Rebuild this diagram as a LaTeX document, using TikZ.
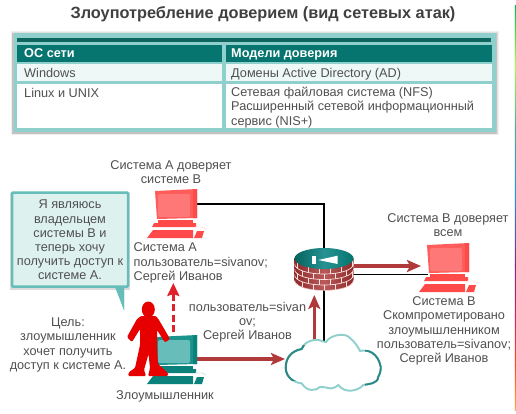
\documentclass[tikz,border=0pt]{standalone}
\usepackage{fontspec}
\setmainfont{Liberation Sans}
\usetikzlibrary{arrows.meta}
\definecolor{txt}{HTML}{505050}
\definecolor{tealdark}{HTML}{06756F}
\definecolor{tealbar}{HTML}{0F6560}
\definecolor{teallight}{HTML}{8FD0CC}
\definecolor{calloutedge}{HTML}{66BDB9}
\definecolor{calloutfill}{HTML}{DDF1EF}
\definecolor{arrowred}{HTML}{B03A3A}
\definecolor{dashred}{HTML}{E0202A}
\definecolor{redbody}{HTML}{FF4A4A}
\definecolor{redfront}{HTML}{FF5C5C}
\definecolor{redscreen}{HTML}{FF7878}
\definecolor{tealbody}{HTML}{0A827B}
\definecolor{tealfront}{HTML}{1A938C}
\definecolor{tealscreen}{HTML}{66BDB9}
\definecolor{brick}{HTML}{8E2A2A}
\definecolor{brickmid}{HTML}{B85A5A}
\definecolor{personred}{HTML}{E60000}
\tikzset{
 x=1pt,y=-1pt,
 lbl/.style={inner sep=0pt,text=txt,font=\fontsize{12.7}{14.2}\selectfont,align=center},
 lbll/.style={lbl,align=left},
 celltxt/.style={lbl,align=left,anchor=west},
 rowtxt/.style={celltxt,text height=9pt,text depth=2.5pt},
 headtxt/.style={inner sep=0pt,anchor=west,text=white,text height=9pt,text depth=2.5pt,font=\fontsize{12.7}{14.2}\selectfont\bfseries},
 hook/.style={inner sep=0pt,minimum width=42pt,minimum height=30pt},
 bluntline/.style={line width=1.6pt,black},
 bigarrow/.style={line width=3.2pt,arrowred,-{Stealth[length=14pt,width=12pt,inset=3pt]}},
 pics/comp/.style n args={4}{code={
  \fill[#2] (0,1)--(42,-1)--(42,28)--(2,29)--cycle;
  \fill[#1] (38,0)--(42,-1)--(42,28)--(38,28)--cycle;
  \fill[#3,rounded corners=1.5pt] (3,4)--(35,4)--(35,27)--(3,27)--cycle;
  \fill[#1] (3,30)--(38,30)--(38,33)--(3,33)--cycle;
  \fill[#1] (-1,33)--(41,33)--(41,37)--(-3,37)--cycle;
  \fill[#1] (-2,40)--(38,40)--(38,48)--(-8,48)--cycle;
  \fill[#1] (42,41)--(49,41)--(47,48)--(39,48)--cycle;
  \draw[#4,line width=.8pt] (40,37)--(47,37)--(51,39);
 }},
}
\begin{document}
\begin{tikzpicture}
\useasboundingbox (0,0) rectangle (516,414);
\fill[white] (0,0) rectangle (516,414);
% rainbow edge line
\shade[top color=green!45!teal,bottom color=yellow!50!green!70!white] (514.8,6) rectangle (515.8,65);
\shade[top color=yellow!50!green!70!white,bottom color=teal!70!white] (514.8,65) rectangle (515.8,130);
\shade[top color=teal!70!white,bottom color=blue!40!cyan!70!gray] (514.8,130) rectangle (515.8,195);
\shade[top color=blue!40!cyan!70!gray,bottom color=violet!70!gray] (514.8,195) rectangle (515.8,265);
\shade[top color=violet!70!gray,bottom color=purple!85!white] (514.8,265) rectangle (515.8,315);
\shade[top color=purple!85!white,bottom color=red!70!orange!85!white] (514.8,315) rectangle (515.8,365);
\shade[top color=red!70!orange!85!white,bottom color=orange!70!white] (514.8,365) rectangle (515.8,410);
% title
\node[inner sep=0pt,text=black!75,font=\fontsize{16.3}{18}\selectfont\bfseries] (title) at (263,14.5) {Злоупотребление доверием (вид сетевых атак)};
% table
\foreach \w/\c in {5/6,3.5/12,2.2/24}
  \draw[line width=\w pt,black!\c] (13.5,34) rectangle (496,132.5);
\fill[teallight] (13.5,33.5) rectangle (495.5,132);
\fill[tealbar] (17.3,38.3) rectangle (491,41.7);
\fill[tealdark] (17.3,45) rectangle (221.7,61.7);
\fill[tealdark] (225.7,45) rectangle (491.7,61.7);
\fill[teallight!15!white] (17.3,64.3) rectangle (221.7,81);
\fill[teallight!15!white] (225.7,64.3) rectangle (491.7,81);
\fill[white] (17.3,84.3) rectangle (221.7,128);
\fill[white] (225.7,84.3) rectangle (491.7,128);
\node[headtxt] (h1) at (24,54) {ОС сети};
\node[headtxt] (h2) at (231,54) {Модели доверия};
\node[rowtxt] (c1) at (24,74) {Windows};
\node[rowtxt] (c2) at (231,74) {Домены Active Directory (AD)};
\node[rowtxt] (c3) at (24,94.5) {Linux и UNIX};
\node[celltxt] (c4) at (231,107.5) {Сетевая файловая система (NFS)\\Расширенный сетевой информационный\\сервис (NIS+)};
% anchors
\node[hook] (compA) at (176,204) {};
\node[hook] (compX) at (176,359) {};
\node[hook] (compB) at (449,274.3) {};
\node[inner sep=0pt,minimum width=59pt,minimum height=42pt] (router) at (324,269) {};
\coordinate (corner) at (324,204);
\coordinate (cloudtop) at (324,342);
\coordinate (cloudleft) at (285,359);
\coordinate (rOutE) at (354,266);
\coordinate (bIn) at (421,266);
\coordinate (cloudUp) at (314.3,339);
\coordinate (rIn) at (314.3,295);
\coordinate (dashS) at (173.3,332);
\coordinate (dashE) at (173.3,283);
% connectors
\draw[bluntline] (compA.east) -- (corner) -- (router.center) -- (cloudtop);
\draw[bluntline] (router.center) ++(0,5.3) -- (compB.west);
\draw[bigarrow] (rOutE) -- (bIn);
\draw[bigarrow] (cloudUp) -- (rIn);
\draw[bigarrow] (compX.east) -- (cloudleft);
\draw[line width=2.6pt,dashred,dash pattern=on 7pt off 3.5pt] (dashS) -- (173.3,296);
\draw[line width=2.6pt,dashred,-{Stealth[length=13pt,width=12pt,inset=2pt]}] (173.3,298) -- (dashE);
% computers
\pic at (155,190) {comp={redbody}{redfront}{redscreen}{red!10!white}};
\pic at (427,244) {comp={redbody}{redfront}{redscreen}{red!10!white}};
\pic at (155,336) {comp={tealbody}{tealfront}{tealscreen}{teallight!50!white}};
% router
\shade[left color=brick,right color=brick,middle color=brickmid] (294.5,258) -- (294.5,280) .. controls (294.5,294) and (353.5,294) .. (353.5,280) -- (353.5,258) -- cycle;
\begin{scope}
\clip (294.5,258) -- (294.5,280) .. controls (294.5,294) and (353.5,294) .. (353.5,280) -- (353.5,258) -- cycle;
\foreach \k in {0,1,2,3}{
  \pgfmathsetmacro{\yy}{263.5+5.5*\k}
  \draw[red!12!white,line width=.7pt] (294.5,\yy) .. controls (294.5,\yy+14) and (353.5,\yy+14) .. (353.5,\yy);
}
\foreach \k in {0,1,2,3,4}{
  \pgfmathsetmacro{\yy}{258+5.5*\k}
  \pgfmathsetmacro{\off}{mod(\k,2)*5.5}
  \foreach \i in {0,...,5}{
    \pgfmathsetmacro{\xx}{297+\off+\i*11}
    \pgfmathsetmacro{\dy}{10.5*sqrt(max(0,1-((\xx-324)/29.5)^2))}
    \draw[red!12!white,line width=.7pt] (\xx,\yy+\dy) -- (\xx,\yy+\dy+5.5);
  }
}
\end{scope}
\shade[left color=tealdark!85!black,right color=tealdark,middle color=teal!85!white] (324,258.5) ellipse[x radius=29.5pt,y radius=10.5pt];
\fill[white] (312.3,255.7) rectangle (316.3,264);
\fill[white] (337.7,255.7) -- (337.7,264) -- (318.3,260) -- cycle;
% cloud
\def\cloudpath{(285.7,368) .. controls (285.7,358) and (291,351) .. (301.7,349)
 .. controls (303,343) and (312,339) .. (319,340) .. controls (322,341) and (324,342) .. (326,342)
 .. controls (330,335) and (345,332) .. (350,338) .. controls (355,342) and (358,347) .. (360,351)
 .. controls (368,349) and (378,353) .. (380.7,366.7) .. controls (381,370) and (380,374) .. (378.3,376.7)
 .. controls (378,384) and (368,384) .. (363.3,385) .. controls (358,391) and (345,394) .. (338.3,385)
 .. controls (335,388) and (331,389) .. (328.3,388) .. controls (325,387) and (322,387) .. (320,387)
 .. controls (316,391) and (307,392) .. (301.7,383.3) .. controls (295,383) and (286,378) .. (285.7,368) -- cycle}
\fill[white] \cloudpath;
\draw[teallight,line width=1.9pt] \cloudpath;
\begin{scope}
\clip (280,345) rectangle (312,380);
\draw[tealdark!85!white,line width=2pt] \cloudpath;
\end{scope}
\begin{scope}
\clip (365,350) rectangle (385,388);
\draw[tealdark!85!white,line width=1.9pt] \cloudpath;
\end{scope}
% callout
\fill[black!14] (9.5,193) rectangle (130,290);
\fill[calloutedge] (115,285) -- (124,285) -- (124,310) -- cycle;
\draw[calloutedge,fill=calloutfill,line width=2.5pt,rounded corners=1pt] (12,192.5) rectangle (128,286.5);
\fill[calloutedge] (115,287) -- (124,287) -- (124,310) -- cycle;
\node[lbl] (say) at (70,240) {Я являюсь\\владельцем\\системы В и\\теперь хочу\\получить доступ к\\системе А.};
% person
\fill[personred] (148.3,309.5) ellipse[x radius=6.5pt,y radius=8pt];
\fill[personred,rounded corners=1.2pt] (141,316) -- (156,316) -- (159,320) -- (170,339) -- (165,342.5) -- (157,330) -- (157,345) -- (158,364) -- (168,373) -- (168,376) -- (148,376) -- (150,368) -- (148.5,354) -- (144,370) -- (146,376) -- (128,376) -- (129,372) -- (135,368) -- (140,345) -- (140,329) -- (132,342) -- (127,337) -- (137,319) -- cycle;
% labels
\node[lbl] (l1) at (171,172) {Система А доверяет\\системе В};
\node[lbll,anchor=west] (l2) at (133.5,263) {Система А\\пользователь=sivanov;\\Сергей Иванов};
\node[lbl] (l3) at (247.5,322) {пользователь=sivan\\ov;\\Сергей Иванов};
\node[lbl] (l4) at (68,345) {Цель:\\злоумышленник\\хочет получить\\доступ к системе А.};
\node[lbl] (l5) at (165,396) {Злоумышленник};
\node[lbl] (l6) at (448,225) {Система В доверяет\\всем};
\node[lbl] (l7) at (444,331) {Система В\\Скомпрометировано\\злоумышленником\\пользователь=sivanov;\\Сергей Иванов};
\end{tikzpicture}
\end{document}
